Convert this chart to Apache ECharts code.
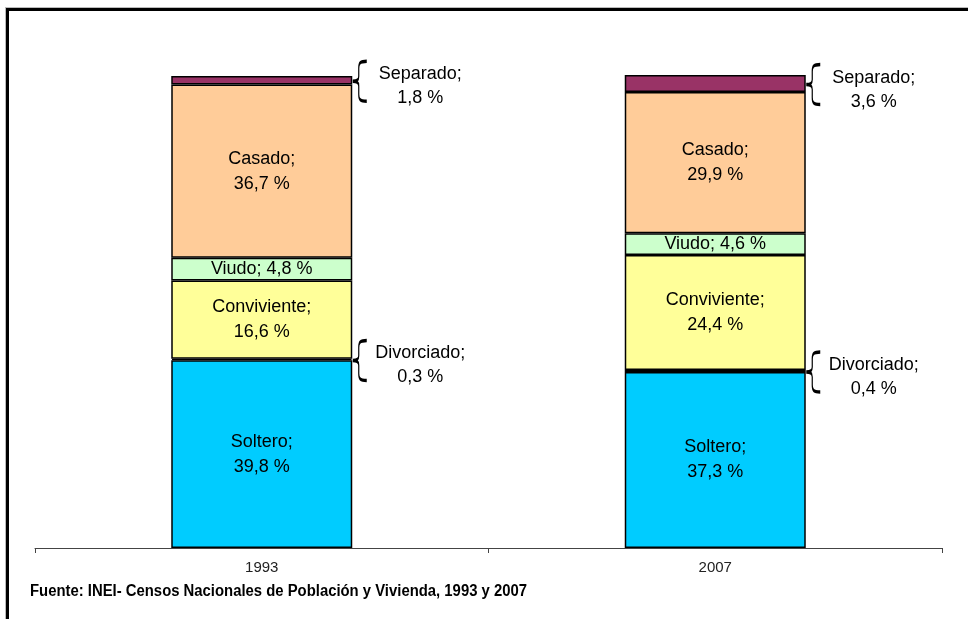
<!DOCTYPE html>
<html>
<head>
<meta charset="utf-8">
<script src="https://cdn.jsdelivr.net/npm/echarts@6/dist/echarts.min.js"></script>
<style>
html,body{margin:0;padding:0;background:#fff;}
#frame{position:absolute;left:6px;top:8px;width:1100px;height:800px;border-left:3px solid #000;border-top:3px solid #000;box-shadow:-1px -1px 0 #bbb;}
#chart{position:absolute;left:0;top:0;width:968px;height:619px;}
</style>
</head>
<body>
<div id="frame"></div>
<div id="chart"></div>
<script>
// ---- data ----
var years = ['1993', '2007'];
var soltero = [39.8, 37.3];
var divorciado = [0.3, 0.4];
var conviviente = [16.6, 24.4];
var viudo = [4.8, 4.6];
var casado = [36.7, 29.9];
var separado = [1.8, 3.6];
var fuente = 'Fuente: INEI- Censos Nacionales de Población y Vivienda, 1993 y 2007';

function fmt(v) { return v.toFixed(1).replace('.', ','); }

var FONT = "'Liberation Sans', Arial, sans-serif";
var border = { borderColor: '#000', borderWidth: 1.5 };

function insideLabel(name, oneLine) {
  return {
    show: true, position: 'inside', color: '#000', fontFamily: FONT, fontSize: 18, lineHeight: 25,
    formatter: function (p) { return oneLine ? (name + '; ' + fmt(p.value) + ' %') : (name + ';\n' + fmt(p.value) + ' %'); }
  };
}
function sideLabel(name) {
  return {
    show: true, position: 'right', distance: 68, align: 'center', offset: [0, 6],
    color: '#000', fontFamily: FONT, fontSize: 18, lineHeight: 24,
    formatter: function (p) { return name + ';\n' + fmt(p.value) + ' %'; }
  };
}

function barSeries(name, data, color, label) {
  return {
    name: name, type: 'bar', stack: 'total', data: data, barWidth: 181, clip: false,
    itemStyle: Object.assign({ color: color }, border),
    label: label, emphasis: { disabled: true }
  };
}

// brace positions: middle of the Divorciado and Separado segments
var braceData = [];
years.forEach(function (y, i) {
  var d = soltero[i] + divorciado[i] / 2;
  var s = soltero[i] + divorciado[i] + conviviente[i] + viudo[i] + casado[i] + separado[i] / 2;
  braceData.push([y, d]);
  braceData.push([y, s]);
});

var bracePath = 'path://M14,0 C7,0 6,2 6,7 L6,15 C6,19 4,20 0,20 C4,20 6,21 6,25 L6,33 C6,38 7,40 14,40';

// fit the source note to its width in the reference (condensed bold look)
var titleFont = "bold 16px 'Liberation Sans', Arial, sans-serif";
var ctx = document.createElement('canvas').getContext('2d');
ctx.font = titleFont;
var tw = ctx.measureText(fuente).width;
var sx = 497 / tw;

var chart = echarts.init(document.getElementById('chart'), null, { renderer: 'canvas' });
chart.setOption({
  animation: false,
  backgroundColor: 'transparent',
  grid: { left: 35, right: 26, top: 76, bottom: 71, containLabel: false },
  graphic: [{
    type: 'text', left: 30, top: 584, scaleX: sx, silent: true,
    style: { text: fuente, font: titleFont, fill: '#000' }
  }],
  xAxis: {
    type: 'category', data: years,
    axisLine: { lineStyle: { color: '#444', width: 1 } },
    axisTick: { show: true, length: 5, lineStyle: { color: '#444' } },
    axisLabel: { color: '#222', fontFamily: FONT, fontSize: 15, margin: 12 }
  },
  yAxis: { type: 'value', min: 0, max: 100, show: false, splitLine: { show: false } },
  series: [
    barSeries('Soltero', soltero, '#00CCFF', insideLabel('Soltero')),
    barSeries('Divorciado', divorciado, '#000000', sideLabel('Divorciado')),
    barSeries('Conviviente', conviviente, '#FFFF99', insideLabel('Conviviente')),
    barSeries('Viudo', viudo, '#CCFFCC', insideLabel('Viudo', true)),
    barSeries('Casado', casado, '#FFCC99', insideLabel('Casado')),
    barSeries('Separado', separado, '#993366', sideLabel('Separado')),
    {
      name: 'llaves', type: 'scatter', data: braceData, symbol: bracePath,
      symbolSize: [14, 40], symbolOffset: [98, 1], silent: true, z: 5,
      itemStyle: { color: 'rgba(0,0,0,0)', borderColor: '#000', borderWidth: 2, opacity: 1 }
    }
  ]
});
</script>
</body>
</html>
